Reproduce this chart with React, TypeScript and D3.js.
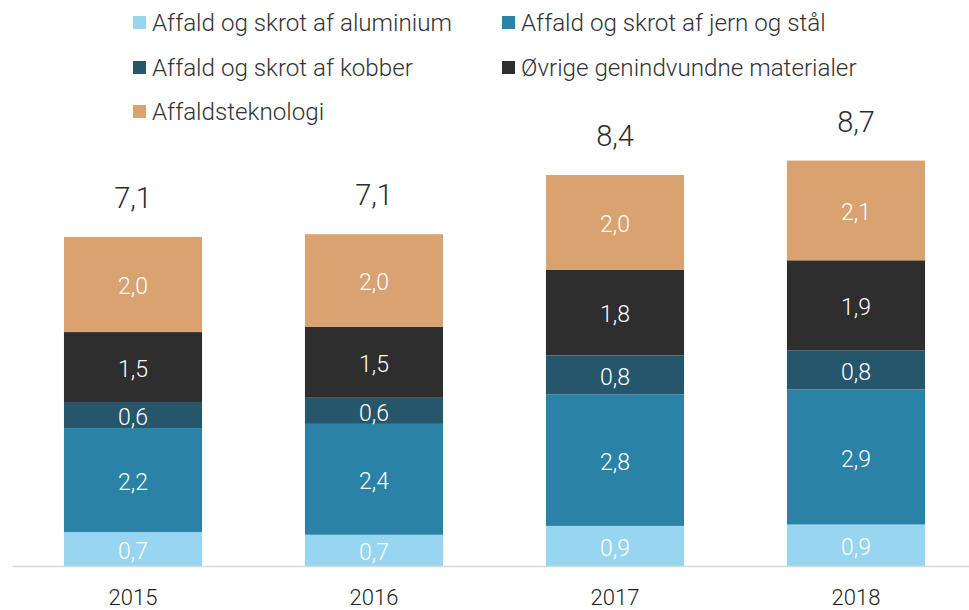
import React from "react";
import * as d3 from "d3";

const years = ["2015", "2016", "2017", "2018"];
const seriesNames = [
  "Affald og skrot af aluminium",
  "Affald og skrot af jern og stål",
  "Affald og skrot af kobber",
  "Øvrige genindvundne materialer",
  "Affaldsteknologi",
];
const aluminium = [0.73, 0.67, 0.86, 0.89];
const jernStaal = [2.23, 2.38, 2.82, 2.9];
const kobber = [0.56, 0.56, 0.84, 0.84];
const oevrige = [1.5, 1.52, 1.84, 1.93];
const teknologi = [2.04, 1.99, 2.03, 2.14];
const colors = ["#97d5f0", "#2a83a6", "#26566b", "#2e2e2e", "#d9a271"];

const W = 969;
const H = 610;

const fmt = (v: number) => d3.format(".1f")(v).replace(".", ",");

export default function App() {
  const seriesValues = [aluminium, jernStaal, kobber, oevrige, teknologi];
  const rows = years.map((y, i) => {
    const r: any = { year: y };
    seriesNames.forEach((n, k) => (r[n] = seriesValues[k][i]));
    return r;
  });
  const stack = d3.stack<any>().keys(seriesNames)(rows);
  const x = d3
    .scaleBand<string>()
    .domain(years)
    .range([12.5, 976.5])
    .paddingInner(0.427)
    .paddingOuter(0.2135);
  const y = d3.scaleLinear().domain([0, 10]).range([566, 100]);
  const totals = years.map((_, i) => d3.sum(seriesValues, (s) => s[i]));
  const font = "Roboto, 'Open Sans', sans-serif";

  const legendPos = [
    { x: 133, y: 31 },
    { x: 502, y: 31 },
    { x: 133, y: 76 },
    { x: 502, y: 76 },
    { x: 133, y: 120 },
  ];

  return (
    <svg
      width={W}
      height={H}
      style={{ position: "absolute", left: 0, top: 0, background: "#fff" }}
      fontFamily={font}
    >
      {legendPos.map((p, k) => (
        <g key={k}>
          <rect x={p.x} y={p.y - 15} width={13} height={13} fill={colors[k]} />
          <text
            x={p.x + 19}
            y={p.y}
            fontSize={24.2}
            fontWeight={300}
            fill="#333"
          >
            {seriesNames[k]}
          </text>
        </g>
      ))}
      {stack.map((layer, k) => (
        <g key={k}>
          {layer.map((d, i) => {
            const x0 = x(years[i])!;
            const top = y(d[1]);
            const bot = y(d[0]);
            return (
              <g key={i}>
                <rect
                  x={x0}
                  y={top}
                  width={x.bandwidth()}
                  height={bot - top}
                  fill={colors[k]}
                />
                <text
                  x={x0 + x.bandwidth() / 2}
                  y={(top + bot) / 2 + 9.7}
                  textAnchor="middle"
                  fontSize={23}
                  fontWeight={300}
                  fill="#fff"
                >
                  {fmt(d[1] - d[0])}
                </text>
              </g>
            );
          })}
        </g>
      ))}
      {years.map((yr, i) => (
        <text
          key={"t" + yr}
          x={x(yr)! + x.bandwidth() / 2}
          y={y(totals[i]) - 29}
          textAnchor="middle"
          fontSize={29}
          fontWeight={300}
          fill="#2b2b2b"
        >
          {fmt(totals[i])}
        </text>
      ))}
      <line x1={12.5} x2={976.5} y1={566.5} y2={566.5} stroke="#d9d9d9" strokeWidth={1.5} />
      {years.map((yr) => (
        <text
          key={"y" + yr}
          x={x(yr)! + x.bandwidth() / 2}
          y={605}
          textAnchor="middle"
          fontSize={22}
          fontWeight={300}
          fill="#1e1e1e"
        >
          {yr}
        </text>
      ))}
    </svg>
  );
}
